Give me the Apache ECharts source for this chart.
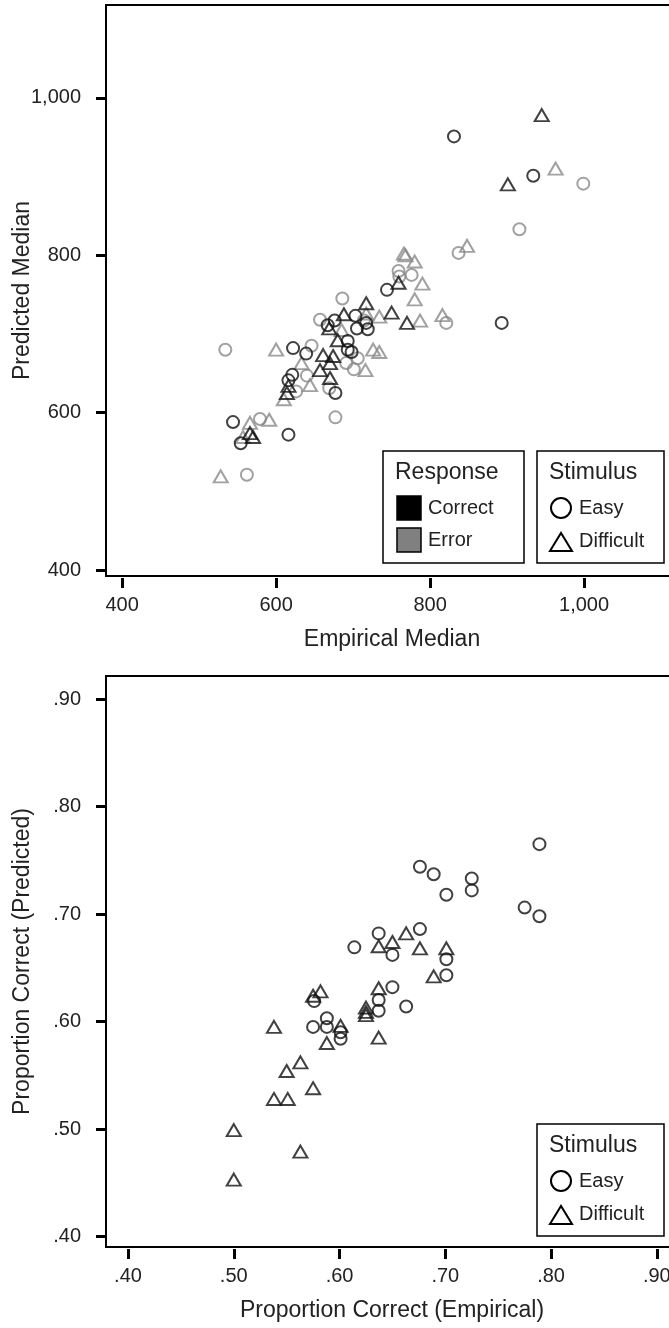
<!DOCTYPE html>
<html>
<head>
<meta charset="utf-8">
<script src="https://cdn.jsdelivr.net/npm/echarts@6/dist/echarts.min.js"></script>
<style>
  html, body { margin: 0; padding: 0; background: #fff; overflow: hidden; }
  #chart { width: 700px; height: 1328px; }
</style>
</head>
<body>
<div id="chart"></div>
<script>
// top panel: median RT, [empirical, predicted]
const correctEasy = [
  [831, 951], [934, 901], [893, 714], [744, 756], [622, 682], [639, 675],
  [621, 648], [616, 641], [677, 625], [544, 588], [554, 561], [616, 572],
  [676, 717], [703, 723], [667, 711], [705, 707], [717, 714], [719, 706],
  [693, 691], [693, 680], [698, 677]
];
const correctDifficult = [
  [945, 978], [901, 890], [759, 765], [750, 727], [770, 714], [717, 739],
  [688, 725], [669, 707], [680, 692], [661, 673], [670, 663], [674, 672],
  [657, 654], [670, 644], [616, 634], [614, 625], [566, 574], [570, 569]
];
const errorEasy = [
  [999, 891], [916, 833], [837, 803], [759, 780], [776, 775], [760, 773],
  [821, 714], [686, 745], [657, 718], [714, 717], [706, 669], [691, 663],
  [701, 655], [646, 685], [626, 627], [640, 647], [669, 631], [677, 594],
  [534, 680], [579, 592], [562, 521]
];
const errorDifficult = [
  [963, 910], [848, 812], [766, 802], [768, 800], [780, 792], [790, 764],
  [780, 744], [734, 722], [787, 717], [816, 724], [734, 677], [600, 680],
  [633, 663], [610, 617], [644, 635], [566, 587], [591, 591], [557, 569],
  [528, 519], [685, 705], [717, 726], [716, 654], [726, 680]
];
const medianTicks = [400, 600, 800, 1000];

// bottom panel: proportion correct, [empirical, predicted]
const pcEasy = [
  [0.789, 0.765], [0.676, 0.744], [0.689, 0.737], [0.725, 0.733], [0.725, 0.722],
  [0.701, 0.718], [0.775, 0.706], [0.789, 0.698], [0.637, 0.682], [0.676, 0.686],
  [0.614, 0.669], [0.650, 0.662], [0.701, 0.658], [0.701, 0.643], [0.650, 0.632],
  [0.637, 0.620], [0.637, 0.610], [0.663, 0.614], [0.576, 0.619], [0.588, 0.603],
  [0.575, 0.595], [0.588, 0.595], [0.601, 0.590], [0.601, 0.584]
];
const pcDifficult = [
  [0.663, 0.682], [0.650, 0.674], [0.637, 0.670], [0.676, 0.668], [0.701, 0.668],
  [0.689, 0.642], [0.637, 0.631], [0.625, 0.613], [0.625, 0.609], [0.625, 0.606],
  [0.637, 0.585], [0.575, 0.624], [0.582, 0.628], [0.601, 0.596], [0.588, 0.580],
  [0.538, 0.595], [0.563, 0.562], [0.550, 0.554], [0.538, 0.528], [0.551, 0.528],
  [0.575, 0.538], [0.500, 0.499], [0.500, 0.453], [0.563, 0.479]
];
const pcTicks = [0.4, 0.5, 0.6, 0.7, 0.8, 0.9];

const FONT = '"Liberation Sans", Arial, sans-serif';
const BLACK = "#111";
const GRAY = "#8a8a8a";

let chart = echarts.init(document.getElementById("chart"));

function fmtMedian(v) {
  return v >= 1000 ? Math.floor(v / 1000) + "," + String(v % 1000).padStart(3, "0") : String(v);
}
function fmtProp(v) {
  return v.toFixed(2).replace(/^0/, "");
}

function makeAxis(gridIndex, min, max, ticks, fmt, name, isX) {
  return {
    type: "value",
    gridIndex: gridIndex,
    min: min,
    max: max,
    offset: isX ? 2 : 0,
    name: name,
    nameLocation: "middle",
    nameGap: isX ? 50 : 72,
    nameMoveOverlap: false,
    nameTextStyle: { fontFamily: FONT, fontSize: 23, color: "#222" },
    axisLine: { show: false },
    splitLine: { show: false },
    axisTick: {
      show: true,
      length: 10,
      customValues: ticks,
      lineStyle: { color: "#000", width: 3 }
    },
    axisLabel: {
      customValues: ticks,
      margin: isX ? 17 : 25,
      fontFamily: FONT,
      fontSize: 20,
      color: "#222",
      formatter: fmt
    }
  };
}

function scatter(name, data, xi, symbol, color) {
  let tri = symbol === "triangle";
  return {
    name: name,
    type: "scatter",
    xAxisIndex: xi,
    yAxisIndex: xi,
    data: data,
    symbol: symbol,
    symbolSize: tri ? [14, 12] : 12,
    itemStyle: { color: "rgba(0,0,0,0)", borderColor: color, borderWidth: 2 },
    silent: true,
    animation: false
  };
}

// legend drawn by hand (boxed, SPSS style)
function legendBox(x, y, w, h) {
  return { type: "rect", shape: { x: x, y: y, width: w, height: h },
    style: { fill: "#fff", stroke: "#000", lineWidth: 1.5 }, z: 100 };
}
function legendText(text, x, y, size) {
  return { type: "text", x: x, y: y, z: 101,
    style: { text: text, font: (size || 20) + "px " + FONT, fill: "#222", verticalAlign: "middle" } };
}
function stimulusLegend(top) {
  return [
    legendBox(537, top, 127, 112),
    legendText("Stimulus", 549, top + 22, 23),
    { type: "circle", shape: { cx: 561, cy: top + 57, r: 10 }, z: 101,
      style: { fill: "none", stroke: "#000", lineWidth: 2 } },
    legendText("Easy", 579, top + 57),
    { type: "polygon", shape: { points: [[550, top + 100], [572, top + 100], [561, top + 82]] }, z: 101,
      style: { fill: "none", stroke: "#000", lineWidth: 2 } },
    legendText("Difficult", 579, top + 90)
  ];
}

let graphics = [
  legendBox(383, 451, 141, 112),
  legendText("Response", 395, 473, 23),
  { type: "rect", shape: { x: 397, y: 496, width: 24, height: 24 }, z: 101,
    style: { fill: "#000", stroke: "#000", lineWidth: 1.5 } },
  legendText("Correct", 428, 508),
  { type: "rect", shape: { x: 397, y: 528, width: 24, height: 24 }, z: 101,
    style: { fill: "#808080", stroke: "#000", lineWidth: 1.5 } },
  legendText("Error", 428, 540)
].concat(stimulusLegend(451), stimulusLegend(1124));

let option = {
  backgroundColor: "#fff",
  animation: false,
  grid: [
    { left: 106, top: 5, width: 572, height: 571, show: true, borderColor: "#000", borderWidth: 2,
      containLabel: false, outerBoundsMode: "none" },
    { left: 106, top: 676, width: 572, height: 571, show: true, borderColor: "#000", borderWidth: 2,
      containLabel: false, outerBoundsMode: "none" }
  ],
  xAxis: [
    makeAxis(0, 379, 1122, medianTicks, fmtMedian, "Empirical Median", true),
    makeAxis(1, 0.3792, 0.92, pcTicks, fmtProp, "Proportion Correct (Empirical)", true)
  ],
  yAxis: [
    makeAxis(0, 392.4, 1118, medianTicks, fmtMedian, "Predicted Median", false),
    makeAxis(1, 0.3903, 0.9214, pcTicks, fmtProp, "Proportion Correct (Predicted)", false)
  ],
  series: [
    scatter("Error Easy", errorEasy, 0, "circle", GRAY),
    scatter("Error Difficult", errorDifficult, 0, "triangle", GRAY),
    scatter("Correct Easy", correctEasy, 0, "circle", BLACK),
    scatter("Correct Difficult", correctDifficult, 0, "triangle", BLACK),
    scatter("Easy", pcEasy, 1, "circle", BLACK),
    scatter("Difficult", pcDifficult, 1, "triangle", BLACK)
  ],
  graphic: graphics
};

chart.setOption(option);
</script>
</body>
</html>
